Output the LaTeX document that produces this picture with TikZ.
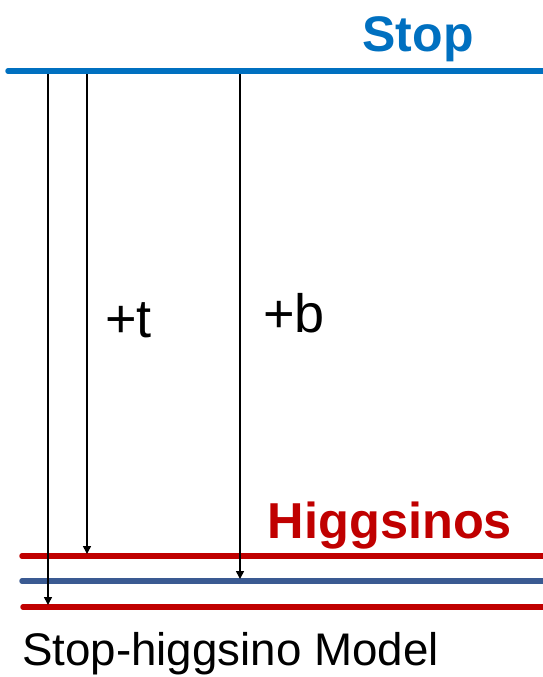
\documentclass[tikz,border=0pt]{standalone}
\usepackage{fontspec}
\setmainfont{Liberation Sans}
\usetikzlibrary{arrows.meta}
\definecolor{stopblue}{HTML}{0070C0}
\definecolor{hred}{HTML}{C00000}
\definecolor{hblue}{HTML}{3A5A92}
\begin{document}
\begin{tikzpicture}[x=1pt,y=-1pt,
  level/.style={line width=5.5pt,line cap=round},
  decay/.style={line width=1.6pt,-{Triangle[length=8pt,width=8pt]},shorten >=-1pt},
  lbl/.style={inner sep=0pt,font=\fontsize{54}{60}\selectfont}]
\useasboundingbox (0,0) rectangle (543,677);
% levels
\draw[level,stopblue] (8,71) -- (548,71);
\draw[level,hred] (22,556) -- (548,556);
\draw[level,hblue] (22,581) -- (548,581);
\draw[level,hred] (23,607) -- (548,607);
% coordinates
\coordinate (s1) at (48,74);
\coordinate (s2) at (87,74);
\coordinate (s3) at (240,74);
\coordinate (e1) at (48,604);
\coordinate (e2) at (87,553);
\coordinate (e3) at (240,578);
\draw[decay] (s1) -- (e1);
\draw[decay] (s2) -- (e2);
\draw[decay] (s3) -- (e3);
% labels
\node[inner sep=0pt,anchor=base,text=stopblue,font=\fontsize{50}{56}\selectfont\bfseries] (stop) at (418,52) {Stop};
\node[inner sep=0pt,anchor=base,text=hred,font=\fontsize{50.5}{56}\selectfont\bfseries] (hig) at (390,538) {Higgsinos};
\node[lbl,anchor=base west] (t) at (105,337) {+t};
\node[lbl,anchor=base west] (b) at (263,332) {+b};
\node[inner sep=0pt,anchor=base west,font=\fontsize{45.7}{50}\selectfont] (model) at (22,665) {Stop-higgsino Model};
\end{tikzpicture}
\end{document}
